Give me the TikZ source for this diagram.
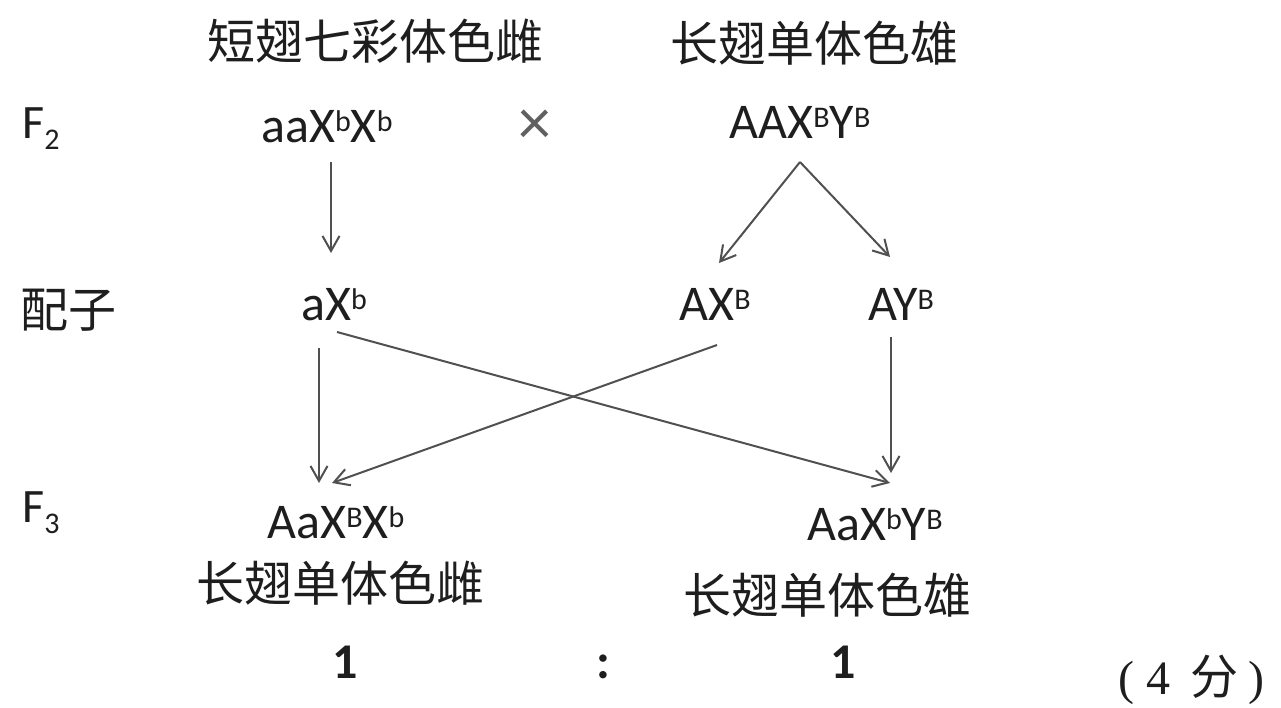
\documentclass[tikz,border=0pt]{standalone}
\usepackage{fontspec}
\setmainfont{Carlito}
\newfontfamily\cjk{Noto Sans CJK SC}
\newfontfamily\serifm{Liberation Serif}
\usetikzlibrary{arrows.meta}
\definecolor{txt}{HTML}{1E1E1E}
\definecolor{ln}{HTML}{505050}
\definecolor{mulc}{HTML}{606060}
\newcommand\hi[1]{\raisebox{11pt}{\fontsize{30}{30}\selectfont #1}}
\newcommand\lo[1]{\raisebox{-11pt}{\fontsize{30}{30}\selectfont #1}}
\begin{document}
\begin{tikzpicture}[x=1pt,y=-1pt,
  gene/.style={anchor=base, inner sep=0pt, text=txt, font=\fontsize{50}{60}\selectfont},
  cn/.style={anchor=center, inner sep=0pt, text=txt, font=\cjk\fontsize{48}{56}\selectfont},
  lab/.style={anchor=base west, inner sep=0pt, text=txt, font=\fontsize{48}{56}\selectfont},
  arr/.style={draw=ln, line width=2pt, -{Straight Barb[length=15pt,width=17pt,line width=2pt]}}]
\useasboundingbox (0,0) rectangle (1281,707);
% top labels
\node[cn] (t1) at (375,41) {短翅七彩体色雌};
\node[cn] (t2) at (814,43) {长翅单体色雄};
% F2 row
\node[lab] (f2) at (22,138) {F\lo{2}};
\node[gene] (p1) at (327,142) {aaX\hi{b}X\hi{b}};
\node[anchor=center, inner sep=0pt, text=mulc, font=\fontsize{66}{70}\selectfont] (mul) at (535,127) {×};
\node[gene] (p2) at (800,138) {AAX\hi{B}Y\hi{B}};
% gametes
\node[cn, anchor=west] (pz) at (20,310) {配子};
\node[gene] (g1) at (334,320) {aX\hi{b}};
\node[gene] (g2) at (715,320) {AX\hi{B}};
\node[gene] (g3) at (901,320) {AY\hi{B}};
% F3 row
\node[lab] (f3) at (22,522) {F\lo{3}};
\node[gene] (o1) at (336,538) {AaX\hi{B}X\hi{b}};
\node[gene] (o2) at (875,540) {AaX\hi{b}Y\hi{B}};
\node[cn] (c1) at (340,583) {长翅单体色雌};
\node[cn] (c2) at (827,595) {长翅单体色雄};
% ratio
\node[gene, font=\bfseries\fontsize{50}{60}\selectfont] (r1) at (345,678) {1};
\node[gene, font=\bfseries\fontsize{50}{60}\selectfont] (rc) at (603,678) {:};
\node[gene, font=\bfseries\fontsize{50}{60}\selectfont] (r2) at (843,678) {1};
\node[anchor=base west, inner sep=0pt, text=txt, font=\serifm\fontsize{48}{56}\selectfont] (score) at (1118,694) {(\hspace{12pt}4\hspace{20pt}{\cjk 分}\hspace{10pt})};
% connectors
\draw[arr] ([xshift=4pt,yshift=-20pt]p1.base) -- ([xshift=-3pt,yshift=67pt]g1.base);
\draw[arr] ([yshift=-24pt]p2.base) -- ([xshift=4pt,yshift=57pt]g2.base);
\draw[arr] ([yshift=-24pt]p2.base) -- ([xshift=-11pt,yshift=63pt]g3.base);
\draw[arr] ([xshift=-15pt,yshift=-28pt]g1.base) -- ([xshift=-17pt,yshift=55pt]o1.base);
\draw[arr] ([xshift=3pt,yshift=-12pt]g1.base) -- ([xshift=15pt,yshift=57pt]o2.base);
\draw[arr] ([xshift=2pt,yshift=-25pt]g2.base) -- ([xshift=-4pt,yshift=55pt]o1.base);
\draw[arr] ([xshift=-10pt,yshift=-17pt]g3.base) -- ([xshift=16pt,yshift=67pt]o2.base);
\end{tikzpicture}
\end{document}
